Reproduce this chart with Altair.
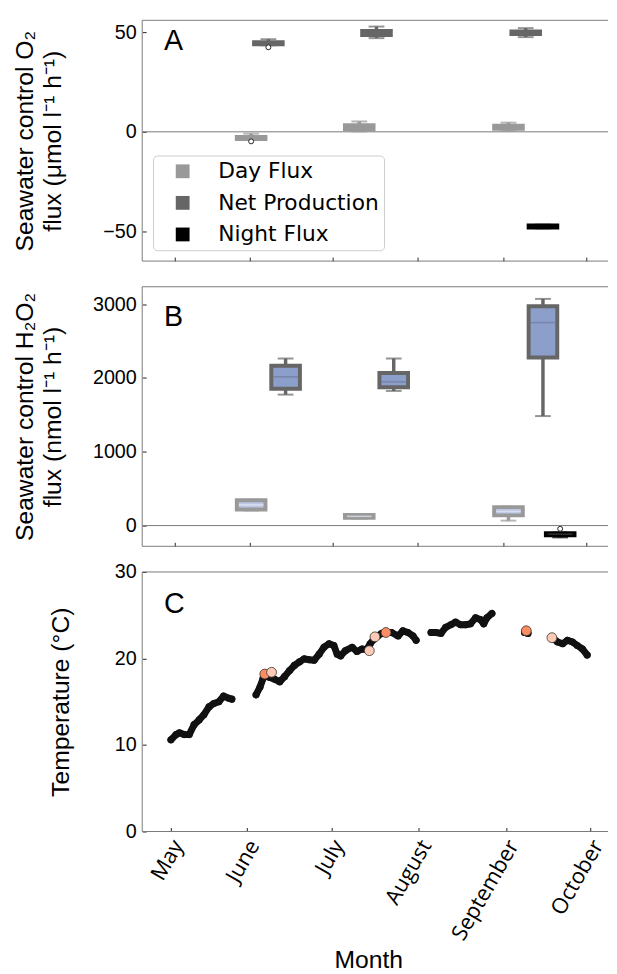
import altair as alt
import pandas as pd

# ---------------- data ----------------
month_names = ["May", "June", "July", "August", "September", "October"]
month_ticks = [125, 152, 182, 213, 244, 274]          # day of year of the month ticks

campaign_days = [152.6, 191.8, 245.9]                 # day of year of the three sampling campaigns
series_names = ["Day Flux", "Net Production", "Night Flux"]
panel_labels = ["A", "B", "C"]

# Panel A - seawater control O2 flux, box statistics
o2_series = ["Day Flux", "Net Production", "Day Flux", "Net Production",
             "Day Flux", "Net Production", "Night Flux"]
o2_campaign = [0, 0, 1, 1, 2, 2, 2]
o2_min = [-4.1, 43.4, 0.2, 47.0, 0.5, 47.5, -48.4]
o2_q1 = [-3.6, 43.9, 1.2, 48.5, 1.5, 49.0, -48.0]
o2_median = [-3.1, 44.4, 2.3, 49.5, 2.3, 49.6, -47.5]
o2_q3 = [-2.6, 44.9, 3.3, 50.6, 3.1, 50.3, -47.0]
o2_max = [-0.9, 46.5, 5.2, 52.8, 4.6, 52.0, -46.6]
o2_out_series = ["Day Flux", "Net Production"]
o2_out_campaign = [0, 0]
o2_out_value = [-4.8, 42.4]

# Panel B - seawater control H2O2 flux, box statistics
h2_series = ["Day Flux", "Net Production", "Day Flux", "Net Production",
             "Day Flux", "Net Production", "Night Flux"]
h2_campaign = [0, 0, 1, 1, 2, 2, 2]
h2_min = [205, 1775, 95, 1825, 67, 1484, -160]
h2_q1 = [218, 1855, 105, 1876, 138, 2277, -130]
h2_median = [281, 2015, 125, 1948, 191, 2751, -117]
h2_q3 = [344, 2166, 143, 2069, 250, 2973, -103]
h2_max = [350, 2264, 150, 2264, 255, 3072, -95]
h2_out_series = ["Night Flux"]
h2_out_campaign = [2]
h2_out_value = [-44]

# Panel C - temperature record
temp_day = [125.1, 126.9, 128.1, 129.8, 131.6,
            133.3, 135.1, 136.8, 138.6, 140.3, 142.1, 143.8, 145.6, 146.7,
            155.3, 156.7, 157.8, 158.6, 160.2, 161.9, 163.7, 165.4, 167.2, 168.9,
            170.7, 172.4, 174.2, 175.9, 177.7, 179.4, 181.2, 182.9, 184.1, 185.3,
            187.0, 189.4, 191.1, 192.9, 194.5, 195.8, 197.0, 198.5, 199.9, 201.6,
            203.4, 205.7, 207.4, 209.2, 211.0, 212.1,
            217.4, 219.1, 220.9, 222.6, 224.4, 226.1, 227.9, 229.7, 231.4, 233.2,
            234.9, 236.1, 237.2, 239.0,
            250.6, 251.8,
            260.8, 262.3, 264.1, 265.8, 267.6, 269.3, 271.1, 272.8]
temp_c = [10.6, 11.2, 11.4, 11.2, 11.2,
          12.35, 12.9, 13.5, 14.4, 14.8, 15.0, 15.65, 15.4, 15.3,
          15.8, 16.7, 17.7, 18.0, 17.8, 17.6, 17.3, 17.9, 18.6, 19.2,
          19.6, 19.95, 19.85, 19.8, 20.5, 21.3, 21.7, 21.5, 20.5, 20.3,
          20.9, 21.3, 20.8, 21.1, 21.0, 21.7, 22.2, 22.6, 22.9, 23.0,
          23.0, 22.6, 23.2, 23.0, 22.6, 22.1,
          23.0, 23.0, 22.9, 23.6, 23.9, 24.2, 23.9, 23.9, 24.0, 24.7,
          24.5, 24.0, 24.7, 25.2,
          23.0, 22.9,
          22.3, 21.9, 21.7, 22.1, 21.9, 21.5, 21.1, 20.4]
dark_day = [158.4, 201.4, 251.2]
dark_temp = [18.2, 23.0, 23.2]
light_day = [160.8, 195.5, 197.5, 260.3]
light_temp = [18.4, 20.9, 22.5, 22.4]

# ---------------- styling ----------------
FRAME = "#7a7a7a"
EDGE = {"Day Flux": "#999999", "Net Production": "#666666", "Night Flux": "#000000"}
FACE_B = {"Day Flux": "#bdc6e4", "Net Production": "#8c9fcb", "Night Flux": "#8c9fcb"}
MID_B = {"Day Flux": "#e6eaf6", "Net Production": "#6e7898", "Night Flux": "#444444"}
SLOT_A = {"Day Flux": 0, "Net Production": 1, "Night Flux": 2}
SLOT_B = {"Day Flux": 0, "Net Production": 2, "Night Flux": 3}
SLOT_STEP = 6.25
W = 472
H_A, H_B, H_C = 244, 263, 263
X_DOMAIN = [114.9, 280.2]
FONT = "Liberation Sans"

xsc = alt.Scale(domain=X_DOMAIN, nice=False, zero=False)

YAX = dict(domain=False, grid=False, offset=-4, tickSize=4, tickColor="#222222", tickWidth=1,
           format="d", labelFont=FONT, labelFontSize=20, labelColor="#000000", labelPadding=6,
           labelFlush=False, labelOverlap=False,
           titleFont=FONT, titleFontSize=25, titleFontWeight="normal", titleColor="#000000",
           titleBaseline="bottom", titleLineHeight=28)

xax_plain = alt.Axis(values=month_ticks, labels=False, title=None, domain=False, grid=False,
                     offset=-4, tickSize=4, tickColor="#222222", tickWidth=1)

label_expr = " : ".join(f"datum.value == {v} ? '{n}'" for v, n in zip(month_ticks, month_names)) + " : ''"
xax_c = alt.Axis(values=month_ticks, labelExpr=label_expr, title="Month", domain=False, grid=False,
                 offset=-4, tickSize=4, tickColor="#222222", tickWidth=1,
                 labelAngle=300, labelAlign="right", labelBaseline="middle",
                 labelFont="Open Sans", labelFontSize=22, labelColor="#000000",
                 labelPadding=10, labelOffset=7, labelOverlap=False, labelFlush=False,
                 titleFont=FONT, titleFontSize=25, titleFontWeight="normal", titleColor="#000000",
                 titleX=229, titleY=142, titleBaseline="alphabetic")


def frame_layers(h):
    one = alt.Chart(pd.DataFrame({"k": [0]}))
    top = one.mark_rule(color=FRAME, strokeWidth=1).encode(x=alt.value(0), x2=alt.value(W), y=alt.value(0))
    bottom = one.mark_rule(color=FRAME, strokeWidth=1).encode(x=alt.value(0), x2=alt.value(W), y=alt.value(h))
    left = one.mark_rule(color=FRAME, strokeWidth=1).encode(x=alt.value(0), y=alt.value(0), y2=alt.value(h))
    return [top, bottom, left]


def letter(i, ypix):
    return alt.Chart(pd.DataFrame({"label": [panel_labels[i]]})).mark_text(
        align="left", baseline="alphabetic", font=FONT, fontSize=29, color="#000000"
    ).encode(x=alt.value(22), y=alt.value(ypix), text="label:N")


def box_frame(series, campaign, mn, q1, med, q3, mx, slots, face, mid):
    df = pd.DataFrame({"series": series, "campaign": campaign, "min": mn, "q1": q1,
                       "median": med, "q3": q3, "max": mx})
    df["day"] = [campaign_days[c] + slots[s] * SLOT_STEP for c, s in zip(campaign, series)]
    df["edge"] = df["series"].map(EDGE)
    df["face"] = df["series"].map(face)
    df["mid"] = df["series"].map(mid)
    return df


def out_frame(series, campaign, value, slots):
    return pd.DataFrame({
        "day": [campaign_days[c] + slots[s] * SLOT_STEP for c, s in zip(campaign, series)],
        "value": value})


def box_panel(df, odf, ysc, yax, h, idx, ly, fill_enc):
    X = alt.X("day:Q", scale=xsc, axis=xax_plain)

    def Y(f):
        return alt.Y(f, scale=ysc, axis=yax)

    zero = alt.Chart(pd.DataFrame({"zero": [0]})).mark_rule(color=FRAME, strokeWidth=1).encode(
        x=alt.value(0), x2=alt.value(W), y=Y("zero:Q"))
    base = alt.Chart(df)
    whisk = base.mark_rule(strokeWidth=3.5).encode(
        x=X, y=Y("min:Q"), y2="max:Q", stroke=alt.Stroke("edge:N", scale=None))
    cap_lo = base.mark_tick(orient="horizontal", size=16, thickness=2).encode(
        x=X, y=Y("min:Q"), color=alt.Color("edge:N", scale=None))
    cap_hi = base.mark_tick(orient="horizontal", size=16, thickness=2).encode(
        x=X, y=Y("max:Q"), color=alt.Color("edge:N", scale=None))
    box = base.mark_bar(size=29, strokeWidth=4).encode(
        x=X, y=Y("q1:Q"), y2="q3:Q", fill=fill_enc, stroke=alt.Stroke("edge:N", scale=None))
    med = base.mark_tick(orient="horizontal", size=25, thickness=1.5).encode(
        x=X, y=Y("median:Q"), color=alt.Color("mid:N", scale=None))
    outl = alt.Chart(odf).mark_point(shape="circle", filled=True, fill="#ffffff", stroke="#222222",
                                     strokeWidth=1, size=25, opacity=1).encode(x=X, y=Y("value:Q"))
    layers = frame_layers(h) + [zero, whisk, cap_lo, cap_hi, box, med, outl, letter(idx, ly)]
    return alt.layer(*layers).properties(width=W, height=h)


# ---------------- panel A ----------------
dfA = box_frame(o2_series, o2_campaign, o2_min, o2_q1, o2_median, o2_q3, o2_max, SLOT_A, EDGE, EDGE)
oA = out_frame(o2_out_series, o2_out_campaign, o2_out_value, SLOT_A)
yscA = alt.Scale(domain=[-64.85, 55.94], nice=False, zero=False)
yaxA = alt.Axis(values=[-50, 0, 50], title=["Seawater control O\u2082", "flux (\u03bcmol l\u207b\u00b9 h\u207b\u00b9)"],
                titleX=-110, **YAX)
legendA = alt.Legend(orient="none", legendX=11, legendY=137, symbolType="square", symbolSize=196,
                     symbolStrokeWidth=0, labelFont="DejaVu Sans", labelFontSize=22, labelColor="#000000",
                     labelLimit=400, strokeColor="#cccccc", cornerRadius=4, fillColor="#ffffff", padding=5,
                     rowPadding=10, labelOffset=25, symbolOffset=14)
fillA = alt.Fill("series:N", scale=alt.Scale(domain=series_names, range=[EDGE[s] for s in series_names]),
                 legend=legendA, title=None)
panelA = box_panel(dfA, oA, yscA, yaxA, H_A, 0, 30.3, fillA)

# ---------------- panel B ----------------
dfB = box_frame(h2_series, h2_campaign, h2_min, h2_q1, h2_median, h2_q3, h2_max, SLOT_B, FACE_B, MID_B)
oB = out_frame(h2_out_series, h2_out_campaign, h2_out_value, SLOT_B)
yscB = alt.Scale(domain=[-280.8, 3236.7], nice=False, zero=False)
yaxB = alt.Axis(values=[0, 1000, 2000, 3000],
                title=["Seawater control H\u2082O\u2082", "flux (nmol l\u207b\u00b9 h\u207b\u00b9)"],
                titleX=-110, **YAX)
fillB = alt.Fill("face:N", scale=None)
panelB = box_panel(dfB, oB, yscB, yaxB, H_B, 1, 39.7, fillB)

# ---------------- panel C ----------------
tdf = pd.DataFrame({"day": temp_day, "temp": temp_c})
tdf["segment"] = (tdf["day"].diff().fillna(0) > 3).cumsum()
yscC = alt.Scale(domain=[0, 30], nice=False, zero=False)
yaxC = alt.Axis(values=[0, 10, 20, 30], title="Temperature (\u00b0C)", titleX=-74, **YAX)
XC = alt.X("day:Q", scale=xsc, axis=xax_c)
temp_line = alt.Chart(tdf).mark_line(color="#111111", strokeWidth=7, strokeCap="round",
                                     strokeJoin="round").encode(
    x=XC, y=alt.Y("temp:Q", scale=yscC, axis=yaxC), detail="segment:N", order="day:Q")
temp_pts = alt.Chart(tdf).mark_circle(size=52, color="#111111", opacity=1).encode(
    x=XC, y=alt.Y("temp:Q", scale=yscC, axis=yaxC))
dark_pts = alt.Chart(pd.DataFrame({"day": dark_day, "temp": dark_temp})).mark_circle(
    size=100, color="#fc8d62", opacity=1, stroke="#333333", strokeWidth=0.8).encode(
    x=XC, y=alt.Y("temp:Q", scale=yscC, axis=yaxC))
light_pts = alt.Chart(pd.DataFrame({"day": light_day, "temp": light_temp})).mark_circle(
    size=100, color="#fdcab5", opacity=1, stroke="#333333", strokeWidth=0.8).encode(
    x=XC, y=alt.Y("temp:Q", scale=yscC, axis=yaxC))
panelC = alt.layer(*(frame_layers(H_C) + [temp_line, temp_pts, dark_pts, light_pts, letter(2, 41.3)])).properties(
    width=W, height=H_C)

chart = alt.vconcat(panelA, panelB, panelC, spacing=26, bounds="flush").resolve_scale(
    fill="independent", stroke="independent", color="independent"
).resolve_legend(fill="independent").properties(
    padding={"left": 5, "top": 5, "right": 0, "bottom": 0}
).configure_view(strokeWidth=0)

chart.save("out.html", embed_options={"renderer": "svg", "actions": False})
